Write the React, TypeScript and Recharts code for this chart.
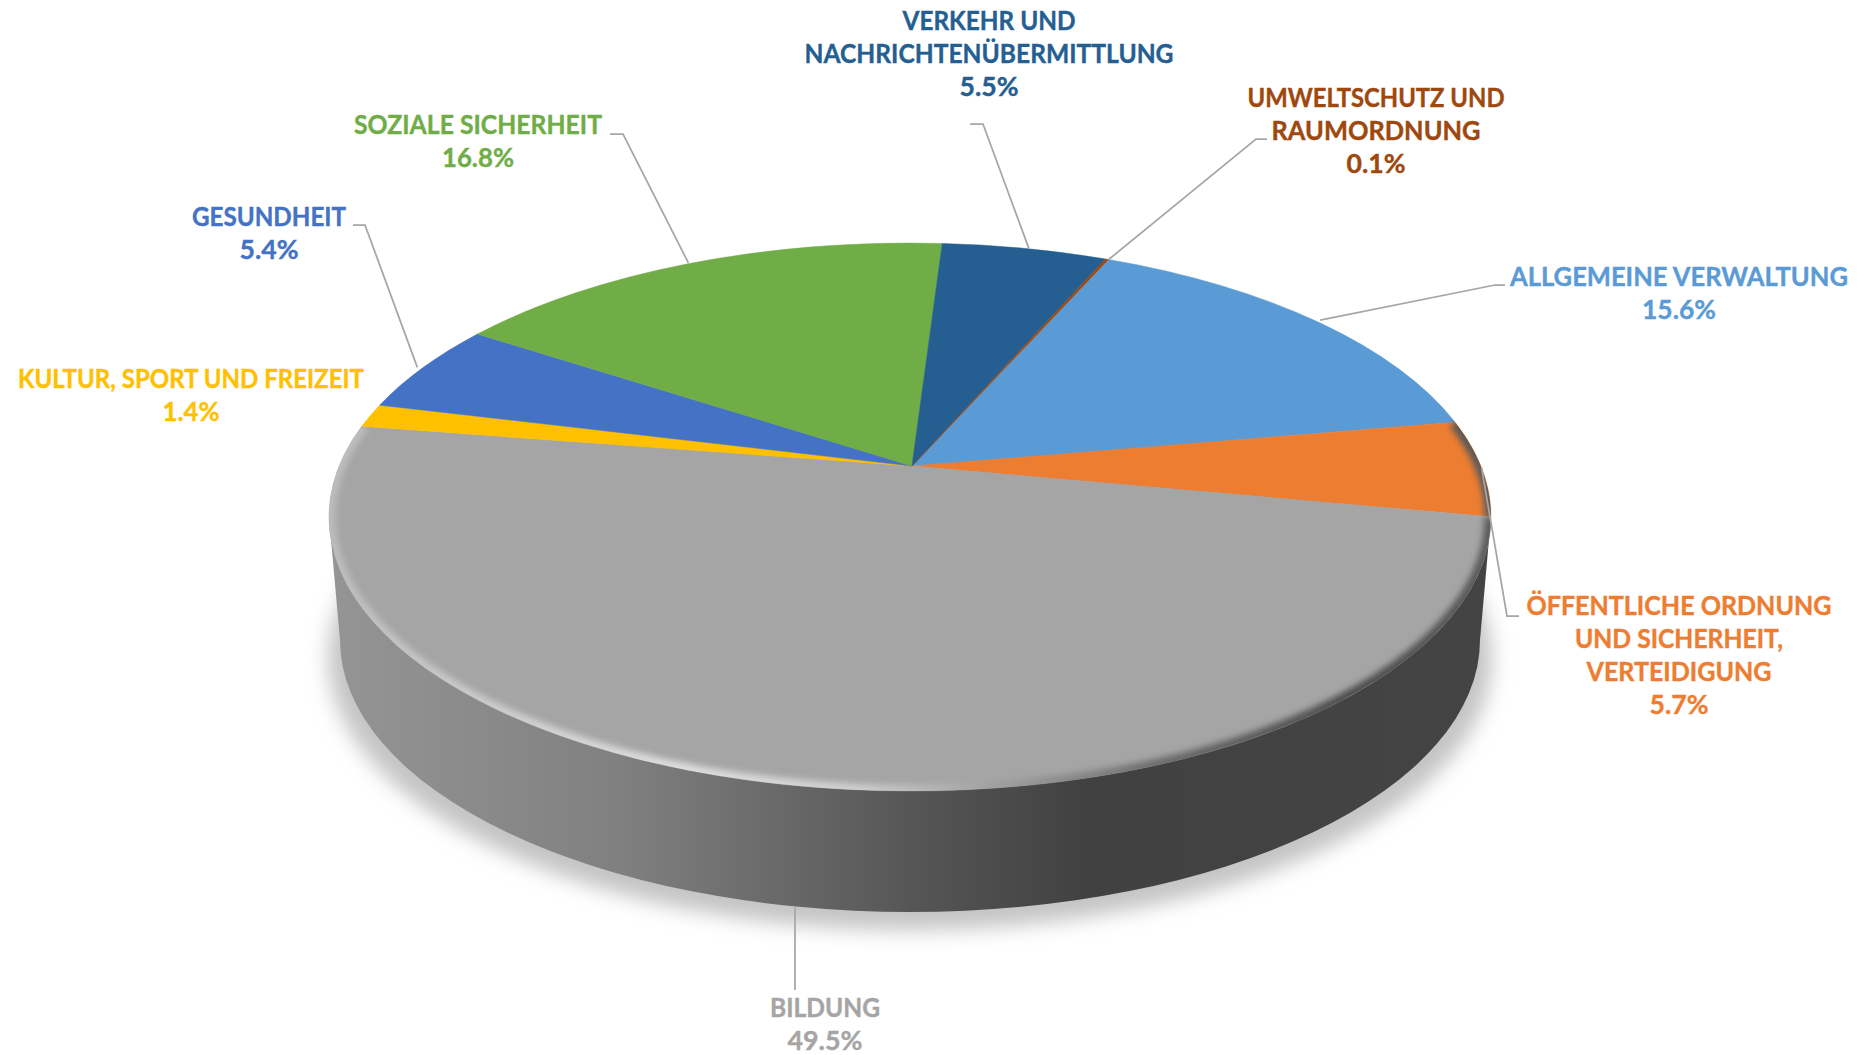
import { PieChart, Pie } from 'recharts';

const categories = [
    'ALLGEMEINE VERWALTUNG',
    'ÖFFENTLICHE ORDNUNG UND SICHERHEIT, VERTEIDIGUNG',
    'BILDUNG',
    'KULTUR, SPORT UND FREIZEIT',
    'GESUNDHEIT',
    'SOZIALE SICHERHEIT',
    'VERKEHR UND NACHRICHTENÜBERMITTLUNG',
    'UMWELTSCHUTZ UND RAUMORDNUNG',
];
const shares = [15.6, 5.7, 49.5, 1.4, 5.4, 16.8, 5.5, 0.1];
const colors = ['#5B9BD5', '#ED7D31', '#A5A5A5', '#FFC000', '#4472C4', '#70AD47', '#255E91', '#9E480E'];

// label lines as they are broken in the picture
const labelLines = [
    ['ALLGEMEINE VERWALTUNG'],
    ['ÖFFENTLICHE ORDNUNG', 'UND SICHERHEIT,', 'VERTEIDIGUNG'],
    ['BILDUNG'],
    ['KULTUR, SPORT UND FREIZEIT'],
    ['GESUNDHEIT'],
    ['SOZIALE SICHERHEIT'],
    ['VERKEHR UND', 'NACHRICHTENÜBERMITTLUNG'],
    ['UMWELTSCHUTZ UND', 'RAUMORDNUNG'],
];
// measured width of each line, percent line last
const lineWidths = [
    [338, 74],
    [305, 208, 185, 59],
    [110, 75],
    [346, 57],
    [154, 59],
    [248, 72],
    [173, 369, 59],
    [257, 209, 59],
];

const data = categories.map((name, i) => ({ name, value: shares[i], fill: colors[i] }));
const base = [{ name: 'base', value: 1 }];

const W = 1875;
const H = 1055;
const CX = 910;
const CY = 517;
const RX = 581;
const RY = 274;
const T = -0.186; // how far the apex sits above the ellipse centre
const BOTTOM_CY = 640;
const BOTTOM_RX = 570;
const BOTTOM_RY = 272;

// label anchor: centre x, first baseline
const labelPos = [
    [1679, 286], [1679, 615], [825, 1017], [191, 388],
    [269, 226], [478, 134], [989, 30], [1376, 107],
];
// leader points after the slice edge; null = no leader
const leaderPts: (number[][] | null)[] = [
    [[1495, 285], [1505, 285]],
    [[1507, 616], [1519, 616]],
    [[795, 990]],
    null,
    [[365, 225], [353, 225]],
    [[623, 134], [610, 134]],
    [[983, 124], [970, 124]],
    [[1256, 139], [1267, 139]],
];
// small x shift of each leader's foot on the slice edge
const leaderNudge = [6, 0, 0, 0, -6, -4, 4, 2];

// the pie is tilted, so a circle angle lands on the ellipse through a perspective map
const project = (deg: number) => {
    const a = (-deg * Math.PI) / 180;
    const ux = Math.cos(a);
    const uy = Math.sin(a);
    const d = 1 + T * uy;
    return {
        x: (ux * Math.sqrt(1 - T * T)) / d,
        y: (uy + T) / d,
    };
};
const toScreen = (p: { x: number; y: number }) => [CX + p.x * RX, CY + p.y * RY];

const arcFlag = (p0: { x: number; y: number }, p1: { x: number; y: number }) => {
    let diff = Math.atan2(p1.y, p1.x) - Math.atan2(p0.y, p0.x);
    if (diff < 0) diff += Math.PI * 2;
    return diff > Math.PI ? 1 : 0;
};

const BaseShape = () => (
    <g>
        <defs>
            <linearGradient id="wall" gradientUnits="userSpaceOnUse" x1={CX - RX} y1={0} x2={CX + RX} y2={0}>
                <stop offset="0" stopColor="#959595" />
                <stop offset="0.25" stopColor="#808080" />
                <stop offset="0.5" stopColor="#565656" />
                <stop offset="0.65" stopColor="#414141" />
                <stop offset="1" stopColor="#444444" />
            </linearGradient>
            <linearGradient id="rim" gradientUnits="userSpaceOnUse" x1={CX - RX} y1={0} x2={CX + RX} y2={0}>
                <stop offset="0" stopColor="#bcbcbc" />
                <stop offset="0.3" stopColor="#dedede" />
                <stop offset="0.45" stopColor="#cfcfcf" />
                <stop offset="0.56" stopColor="#a5a5a5" />
                <stop offset="0.72" stopColor="#6a6a6a" />
                <stop offset="0.88" stopColor="#4c4c4c" />
                <stop offset="1" stopColor="#5c5c5c" />
            </linearGradient>
            <filter id="soft" filterUnits="userSpaceOnUse" x={0} y={0} width={W} height={H}>
                <feGaussianBlur stdDeviation="10" />
            </filter>
            <filter id="softRim" filterUnits="userSpaceOnUse" x={0} y={0} width={W} height={H}>
                <feGaussianBlur stdDeviation="3" />
            </filter>
            <clipPath id="face">
                <ellipse cx={CX} cy={CY} rx={RX} ry={RY} />
            </clipPath>
        </defs>
        <ellipse cx={CX} cy={BOTTOM_CY + 18} rx={BOTTOM_RX + 12} ry={BOTTOM_RY} fill="#c4c4c4" filter="url(#soft)" />
        <path
            d={`M${CX - RX},${CY} L${CX - BOTTOM_RX},${BOTTOM_CY} A${BOTTOM_RX},${BOTTOM_RY} 0 0 0 ${CX + BOTTOM_RX},${BOTTOM_CY} L${CX + RX},${CY} Z`}
            fill="url(#wall)"
        />
    </g>
);

const SliceShape = (props: any) => {
    const { startAngle, endAngle, fill, name } = props;
    const p0 = project(startAngle);
    const p1 = project(endAngle);
    const [x0, y0] = toScreen(p0);
    const [x1, y1] = toScreen(p1);
    const large = arcFlag(p0, p1);
    const apexX = CX + 2;
    const apexY = CY + T * RY;
    const arc = `M${x0},${y0} A${RX},${RY} 0 ${large} 1 ${x1},${y1}`;
    const hasRim = name === categories[1] || name === categories[2];
    return (
        <g>
            <path d={`M${apexX},${apexY} L${x0},${y0} A${RX},${RY} 0 ${large} 1 ${x1},${y1} Z`} fill={fill} stroke={fill} strokeWidth={0.5} />
            {hasRim && (
                <g clipPath="url(#face)">
                    <path d={arc} fill="none" stroke="url(#rim)" strokeWidth={13} filter="url(#softRim)" />
                </g>
            )}
        </g>
    );
};

const renderLabel = (props: any) => {
    const { midAngle, index, value, fill } = props;
    const [lx, ly] = labelPos[index];
    const lines = [...labelLines[index], `${value.toFixed(1)}%`];
    const leader = leaderPts[index];
    let [sx, sy] = toScreen(project(midAngle));
    sx += leaderNudge[index];
    if (categories[index] === 'BILDUNG') {
        // runs straight down from the wall's lower edge
        sx = leader![0][0];
        sy += 122;
    }
    return (
        <g key={categories[index]}>
            {leader && (
                <polyline
                    points={[[sx, sy], ...leader].map((p) => p.join(',')).join(' ')}
                    fill="none"
                    stroke="#A6A6A6"
                    strokeWidth={1.75}
                />
            )}
            {lines.map((t, i) => (
                <text
                    key={i}
                    x={lx}
                    y={ly + i * 33}
                    textAnchor="middle"
                    fill={fill}
                    stroke={fill}
                    strokeWidth={0.4}
                    fontFamily="Lato, sans-serif"
                    fontWeight={700}
                    fontSize={27}
                    textLength={lineWidths[index][i]}
                    lengthAdjust="spacingAndGlyphs"
                >
                    {t}
                </text>
            ))}
        </g>
    );
};

const App = () => {
    return (
        <div style={{ position: 'absolute', left: 0, top: 0, width: W, height: H, overflow: 'hidden', background: '#fff' }}>
            <PieChart width={W} height={H} margin={{ top: 0, right: 0, bottom: 0, left: 0 }}>
                <Pie
                    data={base}
                    dataKey="value"
                    cx={CX}
                    cy={CY}
                    outerRadius={RX}
                    shape={BaseShape}
                    isAnimationActive={false}
                    legendType="none"
                />
                <Pie
                    data={data}
                    dataKey="value"
                    nameKey="name"
                    cx={CX}
                    cy={CY}
                    outerRadius={RX}
                    startAngle={66}
                    endAngle={-294}
                    stroke="none"
                    shape={SliceShape}
                    label={renderLabel}
                    labelLine={false}
                    isAnimationActive={false}
                />
            </PieChart>
        </div>
    );
};

export default App;
